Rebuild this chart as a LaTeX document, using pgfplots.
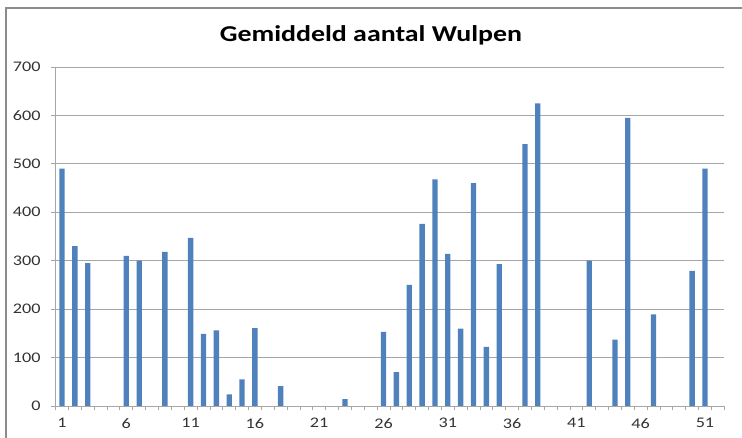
\documentclass[border=0pt]{standalone}
\usepackage{pgfplots}
\pgfplotsset{compat=1.18}
\usepackage{graphicx}
\usepackage{fontspec}
\setmainfont{Carlito}
\definecolor{barblue}{HTML}{4F81BD}
\definecolor{gridc}{HTML}{A6A6A6}
\definecolor{framec}{HTML}{8C8C8C}
\definecolor{labc}{HTML}{333333}
\begin{document}
\begin{tikzpicture}
\path[use as bounding box] (-41.7pt,-24pt) rectangle (514.8pt,304.5pt);
\draw[framec, line width=0.8pt] (-37.2pt,-30pt) -- (-37.2pt,298.5pt) -- (520pt,298.5pt);
\begin{axis}[
  at={(0pt,0pt)}, anchor=south west,
  scale only axis, width=501.5pt, height=254.25pt,
  xmin=0.5, xmax=52.5, ymin=0, ymax=700,
  axis lines=left, axis line style={-, gridc, line width=0.6pt},
  xtick={1,6,...,51},
  minor xtick={0.5,1.5,...,52.5},
  ytick={0,100,...,700},
  ymajorgrids, grid style={gridc, line width=0.6pt},
  tick align=outside,
  major tick length=3.75pt, minor tick length=3pt,
  xtick style={draw=none},
  minor x tick style={draw=gridc, line width=0.6pt},
  ytick style={draw=gridc, line width=0.6pt},
  tick label style={font=\fontsize{11}{13}\selectfont, text=labc},
  /pgf/number format/assume math mode=true,
  xticklabel={\scalebox{1.24}[1]{\pgfmathprintnumber{\tick}}},
  yticklabel={\scalebox{1.24}[1]{\pgfmathprintnumber{\tick}}},
  yticklabel style={xshift=-4pt},
  xticklabel style={yshift=-2pt},
  ybar, bar width=4pt,
]
\addplot[fill=barblue, draw=none] coordinates {
(1,490) (2,330) (3,295) (6,310) (7,300) (9,318) (11,347) (12,149) (13,156)
(14,24) (15,55) (16,161) (18,41) (23,14) (26,153) (27,70) (28,250) (29,376)
(30,468) (31,314) (32,160) (33,460) (34,122) (35,293) (37,541) (38,625)
(42,300) (44,137) (45,595) (47,189) (50,279) (51,490)
};
\end{axis}
\node[font=\fontsize{17}{20}\selectfont\bfseries] at (236.5pt,278pt) {\scalebox{1.23}[1]{Gemiddeld aantal Wulpen}};
\end{tikzpicture}
\end{document}
